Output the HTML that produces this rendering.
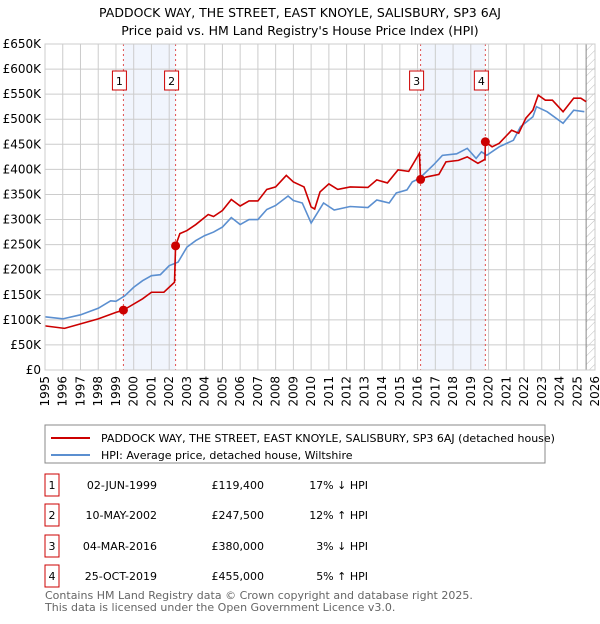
<!DOCTYPE html>
<html><head><meta charset="utf-8"><style>
body{margin:0;background:#fff;font-family:"DejaVu Sans","Liberation Sans",sans-serif;}
svg text{font-family:"DejaVu Sans","Liberation Sans",sans-serif;}
</style></head><body>
<svg id="chart" width="600" height="620" xmlns="http://www.w3.org/2000/svg">
<text x="300" y="17" font-size="12.5" text-anchor="middle">PADDOCK WAY, THE STREET, EAST KNOYLE, SALISBURY, SP3 6AJ</text>
<text x="300" y="35" font-size="12.5" text-anchor="middle">Price paid vs. HM Land Registry's House Price Index (HPI)</text>
<defs><pattern id="hatch" width="6" height="6" patternUnits="userSpaceOnUse" patternTransform="rotate(45)"><line x1="0" y1="0" x2="0" y2="6" stroke="#bbb" stroke-width="1"/></pattern></defs>
<g id="plot"></g>
<g>
<rect x="45" y="425" width="500" height="38" fill="#fff" stroke="#888"/>
<line x1="51" y1="438" x2="90" y2="438" stroke="#cc0000" stroke-width="2"/>
<text x="101" y="442" font-size="11">PADDOCK WAY, THE STREET, EAST KNOYLE, SALISBURY, SP3 6AJ (detached house)</text>
<line x1="51" y1="455" x2="90" y2="455" stroke="#5b8fd0" stroke-width="2"/>
<text x="101" y="459" font-size="11">HPI: Average price, detached house, Wiltshire</text>
</g>
<g id="table" font-size="11"></g>
<text x="45" y="599" font-size="11" fill="#666">Contains HM Land Registry data © Crown copyright and database right 2025.</text>
<text x="45" y="611" font-size="11" fill="#666">This data is licensed under the Open Government Licence v3.0.</text>
</svg>
<script>
const yTicks=[0,50,100,150,200,250,300,350,400,450,500,550,600,650];
const xYears=[1995,1996,1997,1998,1999,2000,2001,2002,2003,2004,2005,2006,2007,2008,2009,2010,2011,2012,2013,2014,2015,2016,2017,2018,2019,2020,2021,2022,2023,2024,2025,2026];
const hpiT=[1995,1996,1997,1998,1998.7,1999,1999.5,2000,2000.5,2001,2001.5,2002,2002.5,2003,2003.5,2004,2004.5,2005,2005.5,2006,2006.5,2007,2007.5,2008,2008.7,2009,2009.5,2010,2010.7,2011.3,2012.2,2013.2,2013.7,2014.4,2014.8,2015.4,2015.7,2016.1,2016.9,2017.4,2018.2,2018.8,2019.3,2019.6,2019.9,2020.6,2021.4,2021.8,2022.5,2022.7,2023.3,2024.2,2024.8,2025.4];
const hpiV=[106,102,110,123,138,137,148,165,178,188,190,208,215,245,258,268,275,285,304,290,300,300,320,328,347,338,333,293,333,319,326,324,339,333,353,359,375,382,409,428,431,442,422,435,428,445,458,485,505,525,515,492,518,515];
const redT=[1995,1996.1,1997,1998,1999,1999.42,2000.5,2001,2001.7,2002.3,2002.36,2002.6,2003,2003.5,2004.2,2004.5,2005,2005.5,2006,2006.5,2007,2007.5,2008,2008.6,2009,2009.6,2010,2010.2,2010.5,2011,2011.5,2012.2,2013.2,2013.7,2014.3,2014.9,2015.5,2016.1,2016.17,2016.5,2017.2,2017.6,2018.3,2018.8,2019.4,2019.8,2019.82,2020.2,2020.6,2021.3,2021.7,2022.1,2022.5,2022.8,2023.2,2023.6,2024.2,2024.8,2025.2,2025.5];
const redV=[88,83,92,102,115,119.4,142,155,155,175,247.5,272,278,290,310,306,318,340,327,337,337,360,365,388,375,365,325,321,355,371,360,365,364,379,373,399,396,432,380,385,390,415,418,425,412,420,455,445,452,478,472,502,518,548,538,538,515,542,542,535];
const saleLabels=["1","2","3","4"];
const saleT=[1999.42,2002.36,2016.17,2019.82];
const saleV=[119.4,247.5,380,455];
const saleDates=["02-JUN-1999","10-MAY-2002","04-MAR-2016","25-OCT-2019"];
const salePrices=["£119,400","£247,500","£380,000","£455,000"];
const saleHpi=["17% ↓ HPI","12% ↑ HPI","3% ↓ HPI","5% ↑ HPI"];

const X0=45,X1=595,Y0=370,Y1=44;
const xs=t=>X0+(t-1995)/(2026-1995)*(X1-X0);
const ys=v=>Y0-v/650*(Y0-Y1);
const NS="http://www.w3.org/2000/svg";
const plot=document.getElementById('plot');
function mk(tag,attrs,parent){const e=document.createElementNS(NS,tag);for(const k in attrs)e.setAttribute(k,attrs[k]);(parent||plot).appendChild(e);return e;}
for(let i=0;i<saleT.length;i+=2){
 const r=mk('rect',{x:xs(saleT[i]),y:Y1,width:xs(saleT[i+1])-xs(saleT[i]),height:Y0-Y1,fill:'#eef3fc',opacity:0.8});
 
 
}
const h=mk('rect',{x:xs(2025.5),y:Y1,width:X1-xs(2025.5),height:Y0-Y1,fill:'url(#hatch)'});


yTicks.forEach(v=>{
 const l=mk('line',{x1:X0,x2:X1,y1:ys(v),y2:ys(v),stroke:'#ccc'});
 
 
 const t=mk('text',{x:X0-4,y:ys(v)+4,'font-size':12,'text-anchor':'end'});
 t.textContent=v===0?'£0':'£'+v+'K';
 
 
});
xYears.forEach(y=>{
 const l=mk('line',{x1:xs(y),x2:xs(y),y1:Y1,y2:Y0,stroke:'#ccc'});
 
 
 const t=mk('text',{x:0,y:0,'font-size':12,'text-anchor':'end',transform:`translate(${xs(y)+4},${Y0+6}) rotate(-90)`});
 t.textContent=y;
 
 
});
mk('line',{x1:xs(2025.5),x2:xs(2025.5),y1:Y1,y2:Y0,stroke:'#888'});
saleT.forEach((t,i)=>{
 const l=mk('line',{x1:xs(t),x2:xs(t),y1:Y1,y2:Y0,stroke:'#e05050','stroke-dasharray':'2,3'});
 
 
 const bx=xs(t)-11;
 const b=mk('rect',{x:bx,y:71,width:14,height:19,fill:'#fff',stroke:'#cc0000'});
 
 
 const tx=mk('text',{x:bx+7,y:85,'font-size':11,'text-anchor':'middle'});
 tx.textContent=saleLabels[i];
 
 
});
function line(T,V,col,name){
 const p=mk('polyline',{points:T.map((t,i)=>xs(t)+','+ys(V[i])).join(' '),fill:'none',stroke:col,'stroke-width':1.6});
 
 
}
line(hpiT,hpiV,'#5b8fd0','hpi-line');
line(redT,redV,'#cc0000','price-paid-line');
saleT.forEach((t,i)=>{
 const c=mk('circle',{cx:xs(t),cy:ys(saleV[i]),r:4.5,fill:'#cc0000'});
 
 
});
mk('rect',{x:X0,y:Y1,width:X1-X0,height:Y0-Y1,fill:'none',stroke:'#ccc'});
const tb=document.getElementById('table');
const rowY=[485,515,546,576];
saleLabels.forEach((s,i)=>{
 const y=rowY[i];
 const b=mk('rect',{x:45,y:y-11,width:14,height:22,fill:'#fff',stroke:'#cc0000'},tb);
 
 
 const cells=[[52,'middle',s],[157,'end',saleDates[i]],[264,'end',salePrices[i]],[368,'end',saleHpi[i]]];
 cells.forEach(c=>{
  const t=mk('text',{x:c[0],y:y+4,'text-anchor':c[1]},tb);
  t.textContent=c[2];
  
  
 });
});
</script>
</body></html>
